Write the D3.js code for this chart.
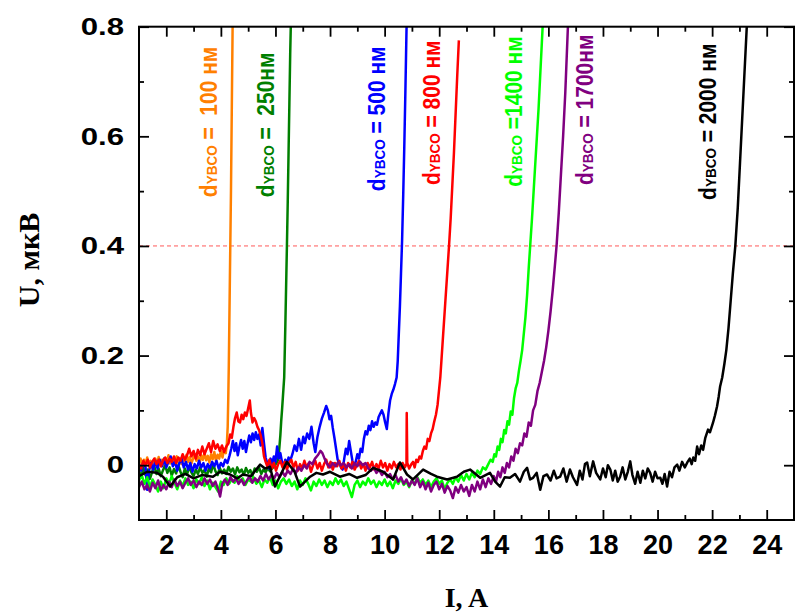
<!DOCTYPE html>
<html><head><meta charset="utf-8">
<script src="https://cdn.jsdelivr.net/npm/d3@7/dist/d3.min.js"></script>
<style>body{margin:0;background:#fff}svg{display:block}</style>
</head><body><svg id="c" width="805" height="614"></svg>
<script>
// ---- data ----
const xMajor = [2,4,6,8,10,12,14,16,18,20,22,24];
const xMinor = [3,5,7,9,11,13,15,17,19,21,23];
const yMajor = [0,0.2,0.4,0.6,0.8];
const yMinor = [0.1,0.3,0.5,0.7];
const yTickLabels = ["0","0.2","0.4","0.6","0.8"];
const criterionU = 0.4;

const d100 = [[1.00,0.005],[1.06,0.012],[1.12,-0.004],[1.18,0.010],[1.24,0.002],[1.30,0.014],[1.36,0.000],[1.42,0.008],[1.48,-0.006],[1.54,0.006],[1.60,0.012],[1.66,0.001],[1.72,0.015],[1.78,0.004],[1.84,0.010],[1.90,-0.002],[1.96,0.013],[2.02,0.006],[2.08,0.018],[2.14,0.003],[2.20,0.011],[2.26,0.000],[2.32,0.009],[2.38,0.016],[2.44,0.004],[2.50,0.012],[2.56,0.002],[2.62,0.014],[2.68,0.007],[2.74,0.019],[2.80,0.006],[2.86,0.015],[2.92,0.003],[2.98,0.012],[3.04,0.020],[3.10,0.008],[3.16,0.016],[3.22,0.004],[3.28,0.018],[3.34,0.010],[3.40,0.022],[3.46,0.009],[3.52,0.017],[3.58,0.005],[3.64,0.020],[3.70,0.011],[3.76,0.024],[3.82,0.008],[3.88,0.019],[3.94,0.012],[4.00,0.026],[4.06,0.014],[4.12,0.030],[4.18,0.022],[4.22,0.040],[4.25,0.07],[4.27,0.12],[4.29,0.18],[4.31,0.26],[4.33,0.34],[4.35,0.42],[4.37,0.50],[4.39,0.60],[4.41,0.70],[4.43,0.80],[4.44,0.84]];

const d250 = [[1.00,-0.010],[1.08,-0.022],[1.16,-0.005],[1.24,-0.018],[1.32,-0.008],[1.40,-0.025],[1.48,-0.012],[1.56,-0.002],[1.64,-0.016],[1.72,-0.006],[1.80,-0.020],[1.88,-0.009],[1.96,-0.001],[2.04,-0.014],[2.12,-0.004],[2.20,-0.019],[2.28,-0.007],[2.36,-0.015],[2.44,0.000],[2.52,-0.012],[2.60,-0.022],[2.68,-0.006],[2.76,-0.017],[2.84,-0.003],[2.92,-0.013],[3.00,-0.020],[3.08,-0.008],[3.16,-0.016],[3.24,-0.004],[3.32,-0.014],[3.40,-0.009],[3.48,-0.021],[3.56,-0.006],[3.64,-0.013],[3.72,0.002],[3.80,-0.011],[3.88,-0.018],[3.96,-0.005],[4.04,-0.015],[4.12,-0.008],[4.20,-0.016],[4.28,-0.003],[4.36,-0.012],[4.44,-0.006],[4.52,-0.017],[4.60,-0.004],[4.68,-0.013],[4.76,-0.008],[4.84,-0.018],[4.92,-0.005],[5.00,-0.014],[5.08,-0.009],[5.16,-0.019],[5.24,-0.006],[5.32,-0.012],[5.40,-0.004],[5.48,-0.016],[5.56,-0.008],[5.64,-0.013],[5.72,-0.005],[5.80,-0.011],[5.88,-0.006],[5.96,-0.002],[6.04,0.004],[6.10,0.010],[6.14,0.030],[6.18,0.055],[6.21,0.080],[6.24,0.100],[6.28,0.130],[6.32,0.160],[6.36,0.250],[6.40,0.350],[6.42,0.400],[6.45,0.480],[6.48,0.570],[6.51,0.660],[6.54,0.750],[6.57,0.820]];

const d500 = [[1.00,0.002],[1.08,-0.010],[1.16,0.006],[1.24,-0.004],[1.30,-0.045],[1.36,-0.012],[1.44,0.004],[1.52,-0.008],[1.60,0.008],[1.68,-0.006],[1.76,0.010],[1.84,-0.002],[1.92,0.012],[2.00,-0.004],[2.08,0.006],[2.16,0.016],[2.24,-0.002],[2.32,0.008],[2.40,-0.010],[2.48,0.004],[2.56,0.012],[2.64,-0.004],[2.72,0.006],[2.80,-0.008],[2.88,0.004],[2.96,-0.012],[3.04,0.002],[3.12,-0.006],[3.20,0.008],[3.28,-0.004],[3.36,0.004],[3.44,-0.010],[3.52,0.002],[3.60,-0.006],[3.68,0.006],[3.76,-0.002],[3.84,0.008],[3.92,-0.006],[4.00,0.004],[4.08,-0.002],[4.16,0.010],[4.24,0.004],[4.32,0.018],[4.38,0.030],[4.44,0.044],[4.50,0.026],[4.56,0.040],[4.62,0.018],[4.68,0.034],[4.74,0.046],[4.80,0.030],[4.86,0.044],[4.92,0.024],[4.98,0.040],[5.04,0.054],[5.10,0.042],[5.16,0.058],[5.22,0.046],[5.28,0.060],[5.34,0.048],[5.40,0.056],[5.46,0.036],[5.52,0.068],[5.58,0.040],[5.64,0.014],[5.70,0.004],[5.76,-0.006],[5.82,0.012],[5.88,0.002],[5.94,0.016],[6.00,0.006],[6.06,0.034],[6.12,0.012],[6.18,0.022],[6.24,0.006],[6.30,-0.004],[6.36,0.010],[6.42,0.002],[6.48,0.014],[6.54,0.008],[6.62,0.020],[6.70,0.036],[6.78,0.026],[6.86,0.048],[6.94,0.028],[7.02,0.052],[7.08,0.040],[7.16,0.058],[7.24,0.048],[7.32,0.070],[7.40,0.040],[7.46,0.024],[7.54,0.052],[7.62,0.070],[7.70,0.085],[7.78,0.096],[7.86,0.108],[7.92,0.100],[7.98,0.084],[8.04,0.090],[8.10,0.068],[8.16,0.050],[8.22,0.030],[8.28,0.010],[8.34,0.004],[8.40,-0.004],[8.46,-0.008],[8.52,0.012],[8.58,0.030],[8.64,0.020],[8.70,0.044],[8.76,0.026],[8.82,0.008],[8.88,-0.004],[8.94,0.006],[9.00,0.020],[9.06,0.012],[9.12,0.030],[9.18,0.024],[9.24,0.048],[9.30,0.062],[9.36,0.056],[9.42,0.072],[9.48,0.064],[9.54,0.080],[9.60,0.070],[9.66,0.078],[9.72,0.074],[9.78,0.088],[9.84,0.094],[9.90,0.100],[9.96,0.092],[10.02,0.078],[10.08,0.066],[10.14,0.095],[10.20,0.118],[10.26,0.130],[10.32,0.138],[10.38,0.148],[10.44,0.160],[10.48,0.190],[10.52,0.240],[10.56,0.290],[10.60,0.350],[10.64,0.410],[10.68,0.490],[10.72,0.580],[10.76,0.680],[10.80,0.790],[10.83,0.850]];

const d800 = [[1.00,0.002],[1.08,-0.006],[1.16,0.008],[1.24,0.000],[1.32,0.010],[1.40,-0.004],[1.48,0.006],[1.56,0.012],[1.64,0.002],[1.72,0.010],[1.80,-0.002],[1.88,0.008],[1.96,0.014],[2.04,0.004],[2.12,0.012],[2.20,0.006],[2.28,0.016],[2.36,0.004],[2.44,0.014],[2.52,0.008],[2.60,0.020],[2.68,0.010],[2.76,0.018],[2.84,0.030],[2.92,0.016],[3.00,0.026],[3.08,0.012],[3.16,0.028],[3.24,0.018],[3.32,0.034],[3.40,0.020],[3.48,0.030],[3.56,0.040],[3.64,0.024],[3.72,0.044],[3.80,0.030],[3.88,0.038],[3.96,0.026],[4.04,0.036],[4.12,0.024],[4.20,0.034],[4.28,0.040],[4.34,0.056],[4.40,0.050],[4.46,0.070],[4.52,0.086],[4.58,0.096],[4.64,0.080],[4.70,0.078],[4.76,0.092],[4.82,0.084],[4.88,0.096],[4.94,0.090],[5.00,0.104],[5.06,0.118],[5.10,0.096],[5.16,0.078],[5.22,0.086],[5.28,0.080],[5.34,0.070],[5.40,0.064],[5.46,0.054],[5.52,0.040],[5.58,0.016],[5.64,0.006],[5.70,-0.002],[5.78,0.010],[5.86,-0.006],[5.94,0.004],[6.02,-0.010],[6.10,0.002],[6.18,0.008],[6.26,-0.004],[6.34,0.006],[6.42,-0.008],[6.50,0.004],[6.58,0.010],[6.66,-0.004],[6.74,0.006],[6.82,-0.010],[6.90,0.002],[6.98,-0.006],[7.06,0.008],[7.14,-0.004],[7.22,0.004],[7.30,-0.012],[7.38,0.000],[7.46,0.008],[7.54,-0.006],[7.62,0.004],[7.70,-0.010],[7.78,0.002],[7.86,0.010],[7.94,-0.004],[8.02,0.006],[8.10,-0.008],[8.18,0.004],[8.26,-0.002],[8.34,0.008],[8.42,-0.006],[8.50,0.002],[8.58,-0.010],[8.66,0.004],[8.74,-0.004],[8.82,0.006],[8.90,-0.008],[8.98,0.000],[9.06,0.008],[9.14,-0.006],[9.22,0.002],[9.30,-0.010],[9.38,0.004],[9.46,-0.004],[9.54,0.006],[9.62,-0.008],[9.70,0.002],[9.78,-0.006],[9.86,0.008],[9.94,-0.004],[10.02,0.004],[10.10,-0.010],[10.18,0.002],[10.26,-0.006],[10.34,0.006],[10.42,-0.004],[10.50,0.002],[10.58,-0.008],[10.66,0.004],[10.74,-0.004],[10.80,0.002],[10.81,0.095],[10.83,0.004],[10.90,-0.006],[10.98,0.002],[11.04,0.006],[11.10,-0.004],[11.16,0.010],[11.22,0.006],[11.28,0.016],[11.34,0.012],[11.40,0.026],[11.46,0.034],[11.52,0.030],[11.58,0.048],[11.64,0.044],[11.70,0.058],[11.76,0.066],[11.82,0.080],[11.88,0.092],[11.94,0.110],[12.00,0.140],[12.04,0.160],[12.08,0.190],[12.12,0.220],[12.16,0.250],[12.20,0.280],[12.24,0.310],[12.28,0.340],[12.32,0.370],[12.36,0.400],[12.42,0.450],[12.48,0.510],[12.54,0.570],[12.60,0.640],[12.66,0.710],[12.72,0.775]];

const d1400 = [[1.00,-0.028],[1.10,-0.018],[1.20,-0.034],[1.30,-0.022],[1.40,-0.040],[1.50,-0.026],[1.60,-0.036],[1.70,-0.048],[1.80,-0.030],[1.90,-0.042],[2.00,-0.024],[2.10,-0.034],[2.20,-0.020],[2.30,-0.032],[2.40,-0.044],[2.50,-0.028],[2.60,-0.038],[2.70,-0.024],[2.80,-0.036],[2.90,-0.030],[3.00,-0.042],[3.10,-0.026],[3.20,-0.034],[3.30,-0.022],[3.40,-0.038],[3.50,-0.028],[3.60,-0.044],[3.70,-0.032],[3.80,-0.040],[3.90,-0.048],[4.00,-0.030],[4.10,-0.036],[4.20,-0.024],[4.30,-0.034],[4.40,-0.026],[4.50,-0.032],[4.60,-0.020],[4.70,-0.030],[4.80,-0.024],[4.90,-0.036],[5.00,-0.026],[5.10,-0.030],[5.20,-0.022],[5.30,-0.034],[5.40,-0.028],[5.50,-0.040],[5.60,-0.026],[5.70,-0.032],[5.80,-0.022],[5.90,-0.036],[6.00,-0.028],[6.10,-0.042],[6.20,-0.030],[6.30,-0.024],[6.40,-0.034],[6.50,-0.026],[6.60,-0.038],[6.70,-0.030],[6.80,-0.044],[6.90,-0.028],[7.00,-0.036],[7.10,-0.024],[7.20,-0.034],[7.30,-0.046],[7.40,-0.030],[7.50,-0.038],[7.60,-0.026],[7.70,-0.036],[7.80,-0.028],[7.90,-0.040],[8.00,-0.030],[8.10,-0.036],[8.20,-0.024],[8.30,-0.034],[8.40,-0.026],[8.50,-0.038],[8.60,-0.030],[8.70,-0.044],[8.80,-0.058],[8.90,-0.036],[9.00,-0.028],[9.10,-0.040],[9.20,-0.030],[9.30,-0.036],[9.40,-0.024],[9.50,-0.034],[9.60,-0.028],[9.70,-0.040],[9.80,-0.030],[9.90,-0.036],[10.00,-0.026],[10.10,-0.038],[10.20,-0.030],[10.30,-0.042],[10.40,-0.028],[10.50,-0.034],[10.60,-0.024],[10.70,-0.036],[10.80,-0.030],[10.90,-0.040],[11.00,-0.028],[11.10,-0.034],[11.20,-0.022],[11.30,-0.032],[11.40,-0.026],[11.50,-0.036],[11.60,-0.028],[11.70,-0.040],[11.80,-0.030],[11.90,-0.024],[12.00,-0.034],[12.10,-0.028],[12.20,-0.044],[12.30,-0.032],[12.40,-0.026],[12.50,-0.034],[12.60,-0.022],[12.70,-0.030],[12.80,-0.018],[12.90,-0.028],[13.00,-0.016],[13.10,-0.026],[13.20,-0.014],[13.30,-0.022],[13.40,-0.010],[13.50,-0.016],[13.60,-0.004],[13.70,-0.008],[13.80,0.002],[13.88,0.010],[13.96,0.006],[14.02,0.020],[14.08,0.016],[14.14,0.034],[14.20,0.028],[14.26,0.048],[14.32,0.042],[14.38,0.064],[14.44,0.058],[14.50,0.080],[14.56,0.074],[14.62,0.098],[14.68,0.092],[14.74,0.122],[14.80,0.140],[14.86,0.150],[14.92,0.172],[14.98,0.190],[15.04,0.210],[15.10,0.240],[15.16,0.270],[15.22,0.310],[15.28,0.360],[15.34,0.405],[15.40,0.450],[15.46,0.500],[15.52,0.550],[15.58,0.600],[15.64,0.650],[15.70,0.710],[15.76,0.770],[15.82,0.830]];

const d1700 = [[1.00,-0.040],[1.10,-0.030],[1.20,-0.044],[1.30,-0.036],[1.40,-0.048],[1.50,-0.032],[1.60,-0.042],[1.70,-0.028],[1.80,-0.046],[1.90,-0.036],[2.00,-0.044],[2.10,-0.030],[2.20,-0.040],[2.30,-0.026],[2.40,-0.038],[2.50,-0.030],[2.60,-0.042],[2.70,-0.032],[2.80,-0.024],[2.90,-0.036],[3.00,-0.028],[3.10,-0.040],[3.20,-0.030],[3.30,-0.036],[3.40,-0.024],[3.50,-0.034],[3.60,-0.026],[3.70,-0.038],[3.80,-0.030],[3.90,-0.044],[3.97,-0.057],[4.05,-0.034],[4.15,-0.026],[4.25,-0.036],[4.35,-0.022],[4.45,-0.030],[4.55,-0.024],[4.65,-0.034],[4.75,-0.026],[4.85,-0.036],[4.95,-0.028],[5.05,-0.020],[5.15,-0.032],[5.25,-0.024],[5.35,-0.030],[5.45,-0.020],[5.55,-0.028],[5.65,-0.016],[5.75,-0.026],[5.85,-0.018],[5.95,-0.024],[6.05,-0.014],[6.15,-0.022],[6.25,-0.012],[6.35,-0.020],[6.45,-0.010],[6.55,-0.016],[6.65,-0.006],[6.75,-0.014],[6.85,-0.004],[6.95,-0.010],[7.05,0.000],[7.15,-0.006],[7.25,0.006],[7.35,0.002],[7.45,0.012],[7.55,0.018],[7.65,0.026],[7.72,0.022],[7.80,0.012],[7.90,0.002],[8.00,-0.004],[8.10,0.004],[8.20,-0.002],[8.30,0.006],[8.40,0.000],[8.50,0.004],[8.60,-0.004],[8.70,0.002],[8.80,-0.006],[8.90,0.004],[9.00,-0.002],[9.10,0.006],[9.20,0.000],[9.30,0.004],[9.40,-0.006],[9.50,-0.010],[9.60,-0.004],[9.70,-0.014],[9.80,-0.008],[9.90,-0.018],[10.00,-0.012],[10.10,-0.022],[10.20,-0.016],[10.30,-0.026],[10.40,-0.018],[10.50,-0.030],[10.60,-0.022],[10.70,-0.034],[10.80,-0.026],[10.90,-0.038],[11.00,-0.028],[11.10,-0.036],[11.20,-0.024],[11.30,-0.040],[11.40,-0.030],[11.50,-0.044],[11.60,-0.032],[11.70,-0.048],[11.80,-0.036],[11.90,-0.030],[12.00,-0.044],[12.10,-0.034],[12.20,-0.050],[12.30,-0.038],[12.40,-0.046],[12.50,-0.060],[12.60,-0.040],[12.70,-0.050],[12.80,-0.036],[12.90,-0.048],[13.00,-0.040],[13.10,-0.056],[13.20,-0.036],[13.30,-0.048],[13.40,-0.030],[13.50,-0.044],[13.60,-0.026],[13.70,-0.040],[13.80,-0.024],[13.90,-0.034],[14.00,-0.020],[14.08,-0.030],[14.16,-0.012],[14.24,-0.022],[14.32,-0.004],[14.40,-0.014],[14.48,0.004],[14.56,-0.004],[14.64,0.016],[14.72,0.008],[14.80,0.030],[14.88,0.022],[14.96,0.040],[15.04,0.036],[15.12,0.058],[15.20,0.052],[15.28,0.078],[15.36,0.072],[15.44,0.100],[15.52,0.110],[15.60,0.135],[15.68,0.150],[15.76,0.170],[15.84,0.190],[15.92,0.215],[16.00,0.245],[16.08,0.280],[16.16,0.320],[16.24,0.365],[16.30,0.400],[16.38,0.460],[16.46,0.530],[16.54,0.600],[16.62,0.680],[16.70,0.780],[16.74,0.830]];

const d2000 = [[1.00,-0.020],[1.30,-0.012],[1.66,-0.014],[1.88,-0.021],[2.14,-0.039],[2.40,-0.022],[2.70,-0.016],[3.00,-0.024],[3.30,-0.018],[3.71,-0.021],[3.97,-0.012],[4.34,-0.017],[4.60,-0.024],[4.81,-0.017],[5.10,-0.020],[5.44,0.001],[5.62,-0.006],[5.80,-0.003],[5.98,-0.039],[6.42,0.006],[6.70,-0.012],[6.90,-0.039],[7.27,-0.021],[7.50,-0.014],[7.74,-0.017],[8.00,-0.012],[8.36,-0.021],[8.70,-0.016],[8.99,-0.023],[9.30,-0.018],[9.58,-0.005],[9.94,-0.012],[10.31,-0.026],[10.56,0.005],[10.82,-0.017],[11.04,-0.026],[11.41,-0.008],[11.70,-0.016],[11.92,-0.021],[12.29,-0.026],[12.65,-0.021],[12.90,-0.012],[13.13,-0.008],[13.50,-0.023],[13.86,-0.014],[14.05,-0.030],[14.23,-0.039],[14.40,-0.022],[14.59,-0.023],[14.78,-0.016],[14.96,-0.030],[15.10,-0.012],[15.22,-0.005],[15.33,-0.026],[15.44,-0.023],[15.57,-0.014],[15.70,-0.045],[15.82,-0.020],[15.95,-0.017],[16.08,-0.028],[16.20,-0.010],[16.30,-0.024],[16.43,-0.021],[16.55,-0.006],[16.67,-0.030],[16.79,-0.008],[16.90,-0.022],[17.05,-0.036],[17.15,-0.010],[17.25,-0.026],[17.34,0.002],[17.42,0.005],[17.52,-0.020],[17.64,0.007],[17.75,-0.014],[17.90,-0.026],[18.00,-0.006],[18.10,-0.022],[18.18,0.000],[18.27,-0.008],[18.36,-0.028],[18.45,-0.010],[18.54,-0.030],[18.63,-0.021],[18.72,-0.004],[18.82,-0.026],[18.91,-0.012],[19.00,0.007],[19.08,-0.018],[19.18,-0.034],[19.27,-0.012],[19.37,-0.032],[19.46,-0.010],[19.55,-0.024],[19.64,-0.006],[19.73,-0.014],[19.82,-0.030],[19.91,-0.012],[20.00,-0.024],[20.10,-0.023],[20.18,-0.034],[20.26,-0.016],[20.35,-0.039],[20.44,-0.012],[20.53,-0.022],[20.62,-0.004],[20.72,0.001],[20.80,-0.010],[20.90,0.006],[21.00,-0.004],[21.09,0.005],[21.18,0.012],[21.25,0.002],[21.31,0.014],[21.38,0.008],[21.45,0.034],[21.52,0.020],[21.60,0.036],[21.67,0.028],[21.75,0.050],[21.85,0.065],[21.92,0.060],[22.03,0.077],[22.10,0.090],[22.18,0.107],[22.24,0.125],[22.29,0.143],[22.37,0.160],[22.45,0.185],[22.52,0.210],[22.60,0.250],[22.68,0.300],[22.76,0.350],[22.85,0.400],[22.94,0.470],[23.02,0.550],[23.10,0.630],[23.18,0.710],[23.26,0.790],[23.30,0.830]];

const seriesNames = ["100","250","500","800","1400","1700","2000"];
const seriesData = [d100,d250,d500,d800,d1400,d1700,d2000];
const seriesColors = ["#ff8000","#007f00","#0000ff","#ff0000","#00ff00","#800080","#000000"];
const labelTexts = [" =  100 нм"," =  250нм"," = 500 нм"," = 800 нм"," =1400 нм"," = 1700нм"," = 2000 нм"];
// label anchor (baseline start) in data units: I, U
const labelI = [3.86,5.95,10.02,12.03,15.03,17.64,22.14];
const labelU = [0.489,0.489,0.500,0.511,0.508,0.511,0.484];

// ---- layout ----
const svg = d3.select("#c");
const L=139, R=794, T=26.7, B=520;
const x = d3.scaleLinear().domain([1,25]).range([L,R]);
const y = d3.scaleLinear().domain([-0.1,0.8]).range([B,T]);

svg.append("defs").append("clipPath").attr("id","clip")
  .append("rect").attr("x",L).attr("y",T).attr("width",R-L).attr("height",B-T);

// criterion line
svg.append("line").attr("x1",L).attr("x2",R).attr("y1",y(criterionU)).attr("y2",y(criterionU))
  .attr("stroke","#ff5a5a").attr("stroke-width",1).attr("stroke-dasharray","4,3");

// curves
const line = d3.line().x(d=>x(d[0])).y(d=>y(d[1]));
const gc = svg.append("g").attr("clip-path","url(#clip)");
seriesData.forEach((d,i)=>{
  gc.append("path").datum(d).attr("d",line).attr("fill","none")
    .attr("stroke",seriesColors[i]).attr("stroke-width",2.5).attr("stroke-linejoin","round");
});

// axes
function styleAxis(g){ g.select(".domain").remove(); g.selectAll(".tick line").attr("stroke","#000").attr("stroke-width",1.8); }
const tickFont = "'Liberation Sans', Arial, sans-serif";
svg.append("g").attr("transform",`translate(0,${B})`)
  .call(d3.axisBottom(x).tickValues(xMajor).tickSize(-10).tickPadding(15).tickFormat(d3.format("d")))
  .call(styleAxis)
  .call(g=>g.selectAll("text").attr("font-family",tickFont).attr("font-weight","bold").attr("font-size",27).attr("fill","#000"));
svg.append("g").attr("transform",`translate(0,${B})`)
  .call(d3.axisBottom(x).tickValues(xMinor).tickSize(-5).tickFormat(""))
  .call(styleAxis);
svg.append("g").attr("transform",`translate(0,${T})`)
  .call(d3.axisTop(x).tickValues(xMajor).tickSize(-10).tickFormat(""))
  .call(styleAxis);
svg.append("g").attr("transform",`translate(0,${T})`)
  .call(d3.axisTop(x).tickValues(xMinor).tickSize(-5).tickFormat(""))
  .call(styleAxis);
const ySX = 1.3;
svg.append("g").attr("transform",`translate(${L},0)`)
  .call(d3.axisLeft(y).tickValues(yMajor).tickSize(-10).tickPadding(15).tickFormat((d,i)=>yTickLabels[i]))
  .call(styleAxis)
  .call(g=>g.selectAll("text").attr("font-family",tickFont).attr("font-weight","bold").attr("font-size",24).attr("fill","#000")
     .attr("x",-15/ySX).attr("transform",`scale(${ySX},1)`));
svg.append("g").attr("transform",`translate(${L},0)`)
  .call(d3.axisLeft(y).tickValues(yMinor).tickSize(-5).tickFormat(""))
  .call(styleAxis);
svg.append("g").attr("transform",`translate(${R},0)`)
  .call(d3.axisRight(y).tickValues(yMajor).tickSize(-10).tickFormat(""))
  .call(styleAxis);
svg.append("g").attr("transform",`translate(${R},0)`)
  .call(d3.axisRight(y).tickValues(yMinor).tickSize(-5).tickFormat(""))
  .call(styleAxis);

// frame
svg.append("rect").attr("x",L).attr("y",T).attr("width",R-L).attr("height",B-T)
  .attr("fill","none").attr("stroke","#000").attr("stroke-width",2);

// series labels
const lsx = 1.15;
seriesNames.forEach((n,i)=>{
  const t = svg.append("text")
    .attr("transform",`translate(${x(labelI[i])},${y(labelU[i])}) scale(${lsx},1) rotate(-90)`)
    .attr("font-family",tickFont).attr("font-weight","bold").attr("font-size",21)
    .attr("fill",seriesColors[i]).style("white-space","pre");
  t.append("tspan").text("d");
  t.append("tspan").attr("font-size",13.5).text("YBCO");
  t.append("tspan").text(labelTexts[i]);
});

// axis titles
const serif = "'Liberation Serif','Times New Roman',serif";
svg.append("text").attr("x",(L+R)/2).attr("y",607).attr("text-anchor","middle")
  .attr("font-family",serif).attr("font-weight","bold").attr("font-size",28).text("I, A");
svg.append("text").attr("transform","translate(39,260) rotate(-90)").attr("text-anchor","middle")
  .attr("font-family",serif).attr("font-weight","bold").attr("font-size",30).text("U, мкВ");
</script></body></html>
